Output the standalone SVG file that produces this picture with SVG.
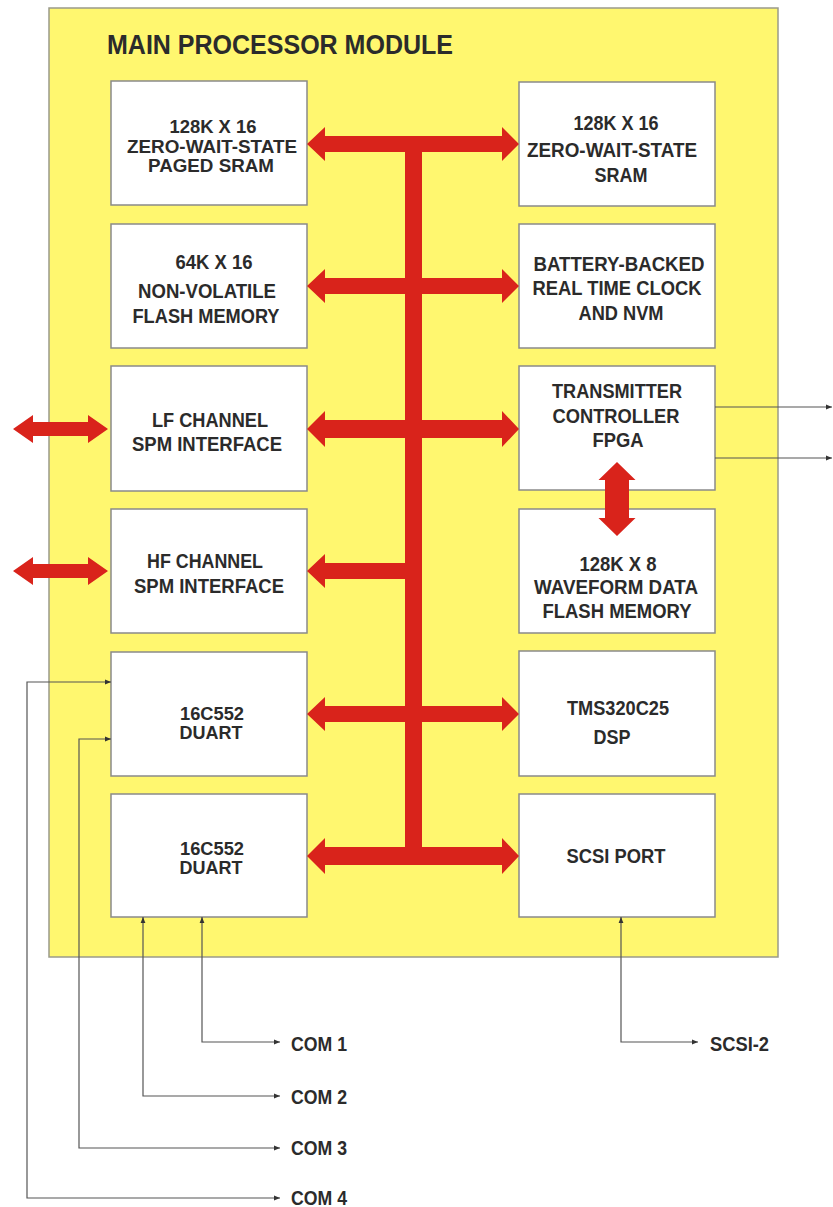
<svg xmlns="http://www.w3.org/2000/svg" width="833" height="1207" viewBox="0 0 833 1207">
<defs>
<style>
.t{font-family:"Liberation Sans",Arial,sans-serif;font-weight:bold;font-size:20.5px;fill:#2b2b2b;text-anchor:middle}
.ts{font-size:19px}
.lbl{font-family:"Liberation Sans",Arial,sans-serif;font-weight:bold;font-size:20.5px;fill:#2b2b2b}
.ttl{font-family:"Liberation Sans",Arial,sans-serif;font-weight:bold;font-size:27px;fill:#2b2b2b}
.box{fill:#ffffff;stroke:#8a8a8a;stroke-width:1.5}
.bus{fill:#d9231b}
.wire{fill:none;stroke:#555555;stroke-width:1.2}
</style>
<marker id="ah" viewBox="0 0 10 10" refX="10" refY="5" markerWidth="7" markerHeight="6" markerUnits="userSpaceOnUse" orient="auto-start-reverse">
<path d="M0,1 L10,5 L0,9 z" fill="#333333"/>
</marker>
</defs>
<rect width="833" height="1207" fill="#ffffff"/>
<g id="module">
<rect x="49" y="8" width="729" height="949" fill="#fff76f" stroke="#9a9a8a" stroke-width="1.5"/>
<text class="ttl" x="107" y="54" textLength="346" lengthAdjust="spacingAndGlyphs">MAIN PROCESSOR MODULE</text>
</g>
<g id="paged-sram">
<rect class="box" x="111" y="81" width="196" height="124"/>
<text class="t ts" x="213" y="133" textLength="87" lengthAdjust="spacingAndGlyphs">128K X 16</text>
<text class="t ts" x="212" y="153" textLength="170" lengthAdjust="spacingAndGlyphs">ZERO-WAIT-STATE</text>
<text class="t ts" x="211" y="172" textLength="126" lengthAdjust="spacingAndGlyphs">PAGED SRAM</text>
</g>
<g id="flash">
<rect class="box" x="111" y="224" width="196" height="124"/>
<text class="t" x="214" y="269" textLength="77" lengthAdjust="spacingAndGlyphs">64K X 16</text>
<text class="t" x="207" y="298" textLength="138" lengthAdjust="spacingAndGlyphs">NON-VOLATILE</text>
<text class="t" x="206" y="323" textLength="147" lengthAdjust="spacingAndGlyphs">FLASH MEMORY</text>
</g>
<g id="lf-spm">
<rect class="box" x="111" y="366" width="196" height="125"/>
<text class="t" x="210" y="427" textLength="116" lengthAdjust="spacingAndGlyphs">LF CHANNEL</text>
<text class="t" x="207" y="451" textLength="150" lengthAdjust="spacingAndGlyphs">SPM INTERFACE</text>
</g>
<g id="hf-spm">
<rect class="box" x="111" y="509" width="196" height="124"/>
<text class="t" x="205" y="568" textLength="116" lengthAdjust="spacingAndGlyphs">HF CHANNEL</text>
<text class="t" x="209" y="593" textLength="150" lengthAdjust="spacingAndGlyphs">SPM INTERFACE</text>
</g>
<g id="duart1">
<rect class="box" x="111" y="652" width="196" height="124"/>
<text class="t ts" x="212" y="720" textLength="64" lengthAdjust="spacingAndGlyphs">16C552</text>
<text class="t ts" x="211" y="739" textLength="63" lengthAdjust="spacingAndGlyphs">DUART</text>
</g>
<g id="duart2">
<rect class="box" x="111" y="794" width="196" height="123"/>
<text class="t ts" x="212" y="855" textLength="64" lengthAdjust="spacingAndGlyphs">16C552</text>
<text class="t ts" x="211" y="874" textLength="63" lengthAdjust="spacingAndGlyphs">DUART</text>
</g>
<g id="sram">
<rect class="box" x="519" y="82" width="196" height="124"/>
<text class="t" x="616" y="130" textLength="85" lengthAdjust="spacingAndGlyphs">128K X 16</text>
<text class="t" x="612" y="157" textLength="170" lengthAdjust="spacingAndGlyphs">ZERO-WAIT-STATE</text>
<text class="t" x="621" y="182" textLength="53" lengthAdjust="spacingAndGlyphs">SRAM</text>
</g>
<g id="rtc">
<rect class="box" x="519" y="224" width="196" height="124"/>
<text class="t" x="619" y="271" textLength="171" lengthAdjust="spacingAndGlyphs">BATTERY-BACKED</text>
<text class="t" x="617" y="295" textLength="169" lengthAdjust="spacingAndGlyphs">REAL TIME CLOCK</text>
<text class="t" x="621" y="320" textLength="85" lengthAdjust="spacingAndGlyphs">AND NVM</text>
</g>
<g id="fpga">
<rect class="box" x="519" y="366" width="196" height="124"/>
<text class="t" x="617" y="398" textLength="130" lengthAdjust="spacingAndGlyphs">TRANSMITTER</text>
<text class="t" x="616" y="423" textLength="127" lengthAdjust="spacingAndGlyphs">CONTROLLER</text>
<text class="t" x="618" y="447" textLength="51" lengthAdjust="spacingAndGlyphs">FPGA</text>
</g>
<g id="waveform">
<rect class="box" x="519" y="509" width="196" height="124"/>
<text class="t" x="618" y="571" textLength="77" lengthAdjust="spacingAndGlyphs">128K X 8</text>
<text class="t" x="616" y="594" textLength="164" lengthAdjust="spacingAndGlyphs">WAVEFORM DATA</text>
<text class="t" x="617" y="618" textLength="149" lengthAdjust="spacingAndGlyphs">FLASH MEMORY</text>
</g>
<g id="dsp">
<rect class="box" x="519" y="651" width="196" height="125"/>
<text class="t" x="618" y="715" textLength="102" lengthAdjust="spacingAndGlyphs">TMS320C25</text>
<text class="t" x="612" y="744" textLength="37" lengthAdjust="spacingAndGlyphs">DSP</text>
</g>
<g id="scsi">
<rect class="box" x="519" y="794" width="196" height="123"/>
<text class="t" x="616" y="863" textLength="99" lengthAdjust="spacingAndGlyphs">SCSI PORT</text>
</g>
<g id="connectors">
<rect class="bus" x="405" y="140" width="17" height="716"/>
<polygon class="bus" points="307,144 325,127 325,136 502,136 502,127 519,144 502,161 502,152 325,152 325,161"/>
<polygon class="bus" points="307,286 325,269 325,278 502,278 502,269 519,286 502,303 502,294 325,294 325,303"/>
<polygon class="bus" points="307,429 325,411 325,420 502,420 502,411 519,429 502,447 502,438 325,438 325,447"/>
<polygon class="bus" points="307,571 325,554 325,563 413,563 413,579 325,579 325,588"/>
<polygon class="bus" points="307,714 325,697 325,706 502,706 502,697 519,714 502,731 502,722 325,722 325,731"/>
<polygon class="bus" points="307,856 325,838 325,847 502,847 502,838 519,856 502,874 502,865 325,865 325,874"/>
<polygon class="bus" points="13,429 33,415 33,422 88,422 88,415 108,429 88,443 88,436 33,436 33,443"/>
<polygon class="bus" points="13,571 33,557 33,564 88,564 88,557 108,571 88,585 88,578 33,578 33,585"/>
<polygon class="bus" points="617,462 635.5,480 629,480 629,518 635.5,518 617,536 598.5,518 605,518 605,480 598.5,480"/>
<path class="wire" d="M715,407 H832" marker-end="url(#ah)"/>
<path class="wire" d="M715,458 H832" marker-end="url(#ah)"/>
<path class="wire" d="M111,682 H27 V1198 H280" marker-start="url(#ah)" marker-end="url(#ah)"/>
<path class="wire" d="M111,739 H79 V1148 H280" marker-start="url(#ah)" marker-end="url(#ah)"/>
<path class="wire" d="M143,917 V1096 H280" marker-start="url(#ah)" marker-end="url(#ah)"/>
<path class="wire" d="M202,917 V1042 H280" marker-start="url(#ah)" marker-end="url(#ah)"/>
<path class="wire" d="M621,917 V1042 H698" marker-start="url(#ah)" marker-end="url(#ah)"/>
</g>
<g id="labels">
<text class="lbl" x="291" y="1051" textLength="56" lengthAdjust="spacingAndGlyphs">COM 1</text>
<text class="lbl" x="291" y="1104" textLength="56" lengthAdjust="spacingAndGlyphs">COM 2</text>
<text class="lbl" x="291" y="1155" textLength="56" lengthAdjust="spacingAndGlyphs">COM 3</text>
<text class="lbl" x="291" y="1205" textLength="56" lengthAdjust="spacingAndGlyphs">COM 4</text>
<text class="lbl" x="710" y="1051" textLength="59" lengthAdjust="spacingAndGlyphs">SCSI-2</text>
</g>
</svg>
